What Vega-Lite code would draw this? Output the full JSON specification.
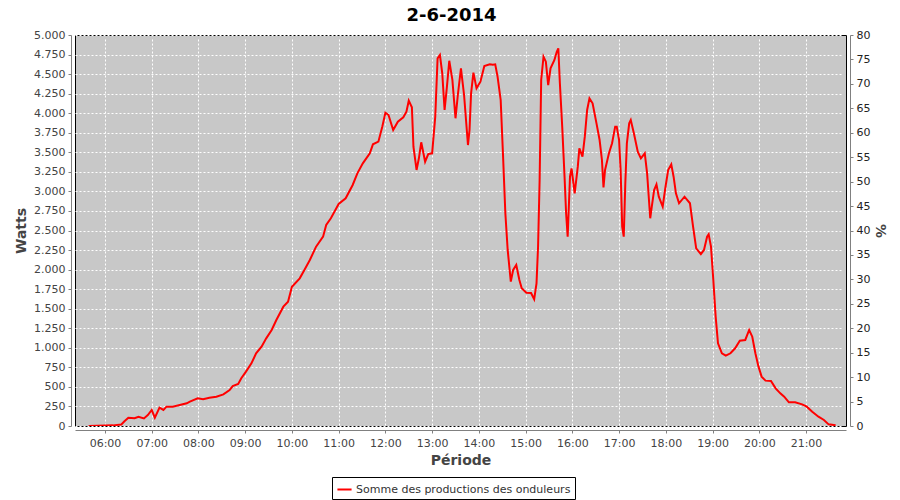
{
  "$schema": "https://vega.github.io/schema/vega-lite/v6.json",
  "width": 771,
  "height": 391,
  "autosize": {"type": "none"},
  "padding": {"left": 75, "top": 35, "right": 54, "bottom": 74},
  "background": "white",
  "title": {"text": "2-6-2014", "fontSize": 18, "font": "DejaVu Sans", "fontWeight": "bold", "color": "#000000", "anchor": "middle", "offset": 4, "dx": -9},
  "config": {
    "locale": {"number": {"decimal": ",", "thousands": ".", "grouping": [3], "currency": ["", " €"]}},
    "view": {"fill": "#c8c8c8", "stroke": "#000000", "strokeWidth": 1},
    "axis": {"labelFont": "DejaVu Sans", "labelFontSize": 11, "labelColor": "#444444", "titleFont": "DejaVu Sans", "titleFontSize": 14, "titleFontWeight": "bold", "titleColor": "#444444", "domainColor": "#808080", "tickColor": "#808080", "tickSize": 3, "offset": 4, "gridColor": "#ffffff", "gridDash": [2, 2], "gridWidth": 1, "gridOpacity": 1}
  },
  "layer": [
    {
      "data": {"values": [
        {"t": "2014-06-02T05:39:00", "w": 0},
        {"t": "2014-06-02T05:50:00", "w": 3},
        {"t": "2014-06-02T06:00:00", "w": 5},
        {"t": "2014-06-02T06:10:00", "w": 8},
        {"t": "2014-06-02T06:21:00", "w": 20},
        {"t": "2014-06-02T06:25:00", "w": 60},
        {"t": "2014-06-02T06:30:00", "w": 106},
        {"t": "2014-06-02T06:38:00", "w": 100},
        {"t": "2014-06-02T06:43:00", "w": 119},
        {"t": "2014-06-02T06:50:00", "w": 96},
        {"t": "2014-06-02T06:55:00", "w": 140},
        {"t": "2014-06-02T07:00:00", "w": 205},
        {"t": "2014-06-02T07:04:00", "w": 106},
        {"t": "2014-06-02T07:10:00", "w": 234},
        {"t": "2014-06-02T07:15:00", "w": 205},
        {"t": "2014-06-02T07:19:00", "w": 247},
        {"t": "2014-06-02T07:27:00", "w": 247},
        {"t": "2014-06-02T07:36:00", "w": 269},
        {"t": "2014-06-02T07:45:00", "w": 290},
        {"t": "2014-06-02T07:49:00", "w": 311},
        {"t": "2014-06-02T07:59:00", "w": 354},
        {"t": "2014-06-02T08:06:00", "w": 341},
        {"t": "2014-06-02T08:14:00", "w": 362},
        {"t": "2014-06-02T08:23:00", "w": 375},
        {"t": "2014-06-02T08:32:00", "w": 405},
        {"t": "2014-06-02T08:40:00", "w": 460},
        {"t": "2014-06-02T08:44:00", "w": 511},
        {"t": "2014-06-02T08:51:00", "w": 537},
        {"t": "2014-06-02T08:55:00", "w": 610},
        {"t": "2014-06-02T09:01:00", "w": 695},
        {"t": "2014-06-02T09:08:00", "w": 801},
        {"t": "2014-06-02T09:14:00", "w": 929},
        {"t": "2014-06-02T09:21:00", "w": 1014},
        {"t": "2014-06-02T09:27:00", "w": 1121},
        {"t": "2014-06-02T09:34:00", "w": 1228},
        {"t": "2014-06-02T09:40:00", "w": 1355},
        {"t": "2014-06-02T09:49:00", "w": 1526},
        {"t": "2014-06-02T09:55:00", "w": 1590},
        {"t": "2014-06-02T10:00:00", "w": 1781},
        {"t": "2014-06-02T10:10:00", "w": 1888},
        {"t": "2014-06-02T10:16:00", "w": 1995},
        {"t": "2014-06-02T10:23:00", "w": 2123},
        {"t": "2014-06-02T10:31:00", "w": 2293},
        {"t": "2014-06-02T10:40:00", "w": 2421},
        {"t": "2014-06-02T10:44:00", "w": 2570},
        {"t": "2014-06-02T10:50:00", "w": 2656},
        {"t": "2014-06-02T10:57:00", "w": 2784},
        {"t": "2014-06-02T11:00:00", "w": 2839},
        {"t": "2014-06-02T11:09:00", "w": 2912},
        {"t": "2014-06-02T11:18:00", "w": 3082},
        {"t": "2014-06-02T11:24:00", "w": 3231},
        {"t": "2014-06-02T11:31:00", "w": 3359},
        {"t": "2014-06-02T11:40:00", "w": 3487},
        {"t": "2014-06-02T11:44:00", "w": 3602},
        {"t": "2014-06-02T11:51:00", "w": 3636},
        {"t": "2014-06-02T11:56:00", "w": 3828},
        {"t": "2014-06-02T12:00:00", "w": 4006},
        {"t": "2014-06-02T12:04:00", "w": 3977},
        {"t": "2014-06-02T12:10:00", "w": 3785},
        {"t": "2014-06-02T12:16:00", "w": 3892},
        {"t": "2014-06-02T12:23:00", "w": 3947},
        {"t": "2014-06-02T12:27:00", "w": 4019},
        {"t": "2014-06-02T12:30:00", "w": 4160},
        {"t": "2014-06-02T12:34:00", "w": 4075},
        {"t": "2014-06-02T12:36:00", "w": 3572},
        {"t": "2014-06-02T12:40:00", "w": 3274},
        {"t": "2014-06-02T12:43:00", "w": 3423},
        {"t": "2014-06-02T12:46:00", "w": 3628},
        {"t": "2014-06-02T12:51:00", "w": 3380},
        {"t": "2014-06-02T12:55:00", "w": 3478},
        {"t": "2014-06-02T13:00:00", "w": 3487},
        {"t": "2014-06-02T13:04:00", "w": 3955},
        {"t": "2014-06-02T13:07:00", "w": 4702},
        {"t": "2014-06-02T13:10:00", "w": 4744},
        {"t": "2014-06-02T13:13:00", "w": 4510},
        {"t": "2014-06-02T13:16:00", "w": 4041},
        {"t": "2014-06-02T13:19:00", "w": 4339},
        {"t": "2014-06-02T13:22:00", "w": 4671},
        {"t": "2014-06-02T13:26:00", "w": 4425},
        {"t": "2014-06-02T13:30:00", "w": 3935},
        {"t": "2014-06-02T13:33:00", "w": 4233},
        {"t": "2014-06-02T13:37:00", "w": 4574},
        {"t": "2014-06-02T13:41:00", "w": 4233},
        {"t": "2014-06-02T13:46:00", "w": 3593},
        {"t": "2014-06-02T13:48:00", "w": 3785},
        {"t": "2014-06-02T13:50:00", "w": 4254},
        {"t": "2014-06-02T13:53:00", "w": 4518},
        {"t": "2014-06-02T13:57:00", "w": 4318},
        {"t": "2014-06-02T14:02:00", "w": 4403},
        {"t": "2014-06-02T14:07:00", "w": 4604},
        {"t": "2014-06-02T14:14:00", "w": 4625},
        {"t": "2014-06-02T14:18:00", "w": 4620},
        {"t": "2014-06-02T14:21:00", "w": 4625},
        {"t": "2014-06-02T14:24:00", "w": 4467},
        {"t": "2014-06-02T14:28:00", "w": 4169},
        {"t": "2014-06-02T14:31:00", "w": 3465},
        {"t": "2014-06-02T14:34:00", "w": 2720},
        {"t": "2014-06-02T14:37:00", "w": 2251},
        {"t": "2014-06-02T14:41:00", "w": 1846},
        {"t": "2014-06-02T14:44:00", "w": 1995},
        {"t": "2014-06-02T14:48:00", "w": 2059},
        {"t": "2014-06-02T14:52:00", "w": 1867},
        {"t": "2014-06-02T14:55:00", "w": 1761},
        {"t": "2014-06-02T15:01:00", "w": 1705},
        {"t": "2014-06-02T15:07:00", "w": 1700},
        {"t": "2014-06-02T15:11:00", "w": 1620},
        {"t": "2014-06-02T15:14:00", "w": 1825},
        {"t": "2014-06-02T15:16:00", "w": 2293},
        {"t": "2014-06-02T15:18:00", "w": 3146},
        {"t": "2014-06-02T15:20:00", "w": 4425},
        {"t": "2014-06-02T15:23:00", "w": 4723},
        {"t": "2014-06-02T15:26:00", "w": 4659},
        {"t": "2014-06-02T15:29:00", "w": 4360},
        {"t": "2014-06-02T15:32:00", "w": 4574},
        {"t": "2014-06-02T15:37:00", "w": 4680},
        {"t": "2014-06-02T15:40:00", "w": 4786},
        {"t": "2014-06-02T15:42:00", "w": 4830},
        {"t": "2014-06-02T15:44:00", "w": 4382},
        {"t": "2014-06-02T15:47:00", "w": 3828},
        {"t": "2014-06-02T15:50:00", "w": 3188},
        {"t": "2014-06-02T15:52:00", "w": 2720},
        {"t": "2014-06-02T15:54:00", "w": 2421},
        {"t": "2014-06-02T15:57:00", "w": 3188},
        {"t": "2014-06-02T15:59:00", "w": 3295},
        {"t": "2014-06-02T16:03:00", "w": 2976},
        {"t": "2014-06-02T16:07:00", "w": 3316},
        {"t": "2014-06-02T16:09:00", "w": 3551},
        {"t": "2014-06-02T16:13:00", "w": 3444},
        {"t": "2014-06-02T16:16:00", "w": 3700},
        {"t": "2014-06-02T16:19:00", "w": 4041},
        {"t": "2014-06-02T16:22:00", "w": 4190},
        {"t": "2014-06-02T16:26:00", "w": 4127},
        {"t": "2014-06-02T16:31:00", "w": 3870},
        {"t": "2014-06-02T16:35:00", "w": 3657},
        {"t": "2014-06-02T16:38:00", "w": 3402},
        {"t": "2014-06-02T16:40:00", "w": 3050},
        {"t": "2014-06-02T16:42:00", "w": 3274},
        {"t": "2014-06-02T16:47:00", "w": 3487},
        {"t": "2014-06-02T16:51:00", "w": 3615},
        {"t": "2014-06-02T16:55:00", "w": 3828},
        {"t": "2014-06-02T16:57:00", "w": 3828},
        {"t": "2014-06-02T17:00:00", "w": 3657},
        {"t": "2014-06-02T17:02:00", "w": 3274},
        {"t": "2014-06-02T17:04:00", "w": 2549},
        {"t": "2014-06-02T17:06:00", "w": 2421},
        {"t": "2014-06-02T17:08:00", "w": 3104},
        {"t": "2014-06-02T17:10:00", "w": 3615},
        {"t": "2014-06-02T17:13:00", "w": 3870},
        {"t": "2014-06-02T17:15:00", "w": 3913},
        {"t": "2014-06-02T17:19:00", "w": 3743},
        {"t": "2014-06-02T17:24:00", "w": 3508},
        {"t": "2014-06-02T17:28:00", "w": 3423},
        {"t": "2014-06-02T17:33:00", "w": 3487},
        {"t": "2014-06-02T17:36:00", "w": 3231},
        {"t": "2014-06-02T17:40:00", "w": 2656},
        {"t": "2014-06-02T17:42:00", "w": 2805},
        {"t": "2014-06-02T17:45:00", "w": 3018},
        {"t": "2014-06-02T17:48:00", "w": 3090},
        {"t": "2014-06-02T17:51:00", "w": 2932},
        {"t": "2014-06-02T17:56:00", "w": 2805},
        {"t": "2014-06-02T17:59:00", "w": 3018},
        {"t": "2014-06-02T18:03:00", "w": 3274},
        {"t": "2014-06-02T18:07:00", "w": 3346},
        {"t": "2014-06-02T18:10:00", "w": 3188},
        {"t": "2014-06-02T18:13:00", "w": 2976},
        {"t": "2014-06-02T18:17:00", "w": 2848},
        {"t": "2014-06-02T18:24:00", "w": 2932},
        {"t": "2014-06-02T18:31:00", "w": 2848},
        {"t": "2014-06-02T18:35:00", "w": 2549},
        {"t": "2014-06-02T18:39:00", "w": 2272},
        {"t": "2014-06-02T18:45:00", "w": 2199},
        {"t": "2014-06-02T18:49:00", "w": 2251},
        {"t": "2014-06-02T18:53:00", "w": 2421},
        {"t": "2014-06-02T18:55:00", "w": 2451},
        {"t": "2014-06-02T18:58:00", "w": 2293},
        {"t": "2014-06-02T19:01:00", "w": 1867},
        {"t": "2014-06-02T19:04:00", "w": 1398},
        {"t": "2014-06-02T19:07:00", "w": 1058},
        {"t": "2014-06-02T19:12:00", "w": 930},
        {"t": "2014-06-02T19:17:00", "w": 900},
        {"t": "2014-06-02T19:23:00", "w": 930},
        {"t": "2014-06-02T19:29:00", "w": 994},
        {"t": "2014-06-02T19:35:00", "w": 1091},
        {"t": "2014-06-02T19:42:00", "w": 1100},
        {"t": "2014-06-02T19:47:00", "w": 1228},
        {"t": "2014-06-02T19:51:00", "w": 1142},
        {"t": "2014-06-02T19:55:00", "w": 930},
        {"t": "2014-06-02T19:59:00", "w": 759},
        {"t": "2014-06-02T20:03:00", "w": 631},
        {"t": "2014-06-02T20:08:00", "w": 580},
        {"t": "2014-06-02T20:15:00", "w": 575},
        {"t": "2014-06-02T20:21:00", "w": 482},
        {"t": "2014-06-02T20:27:00", "w": 418},
        {"t": "2014-06-02T20:32:00", "w": 375},
        {"t": "2014-06-02T20:38:00", "w": 303},
        {"t": "2014-06-02T20:46:00", "w": 303},
        {"t": "2014-06-02T20:55:00", "w": 277},
        {"t": "2014-06-02T21:01:00", "w": 247},
        {"t": "2014-06-02T21:08:00", "w": 183},
        {"t": "2014-06-02T21:16:00", "w": 119},
        {"t": "2014-06-02T21:23:00", "w": 77},
        {"t": "2014-06-02T21:29:00", "w": 21},
        {"t": "2014-06-02T21:38:00", "w": 10}
      ]},
      "mark": {"type": "line", "strokeWidth": 2, "interpolate": "linear", "clip": true},
      "encoding": {
        "x": {
          "field": "t", "type": "temporal",
          "scale": {"domain": [{"year": 2014, "month": 6, "date": 2, "hours": 5, "minutes": 21, "seconds": 30}, {"year": 2014, "month": 6, "date": 2, "hours": 21, "minutes": 51, "seconds": 20}]},
          "axis": {"title": "Période", "format": "%H:%M", "tickCount": 16, "labelPadding": 4, "titlePadding": 5, "labelFlush": false, "labelOverlap": false}
        },
        "y": {
          "field": "w", "type": "quantitative",
          "scale": {"domain": [0, 5000], "nice": false},
          "axis": {"title": "Watts", "values": [0, 250, 500, 750, 1000, 1250, 1500, 1750, 2000, 2250, 2500, 2750, 3000, 3250, 3500, 3750, 4000, 4250, 4500, 4750, 5000], "format": ",.0f", "titlePadding": 5, "labelPadding": 3}
        },
        "color": {
          "datum": "Somme des productions des onduleurs",
          "scale": {"range": ["#ff0000"]},
          "legend": {"title": null, "orient": "none", "legendX": 257, "legendY": 442, "direction": "horizontal", "symbolType": "stroke", "symbolStrokeWidth": 2, "symbolSize": 200, "labelFont": "DejaVu Sans", "labelFontSize": 11, "labelColor": "#333333", "labelLimit": 400, "strokeColor": "#000000", "fillColor": "#ffffff", "padding": 4, "labelOffset": 3}
        }
      }
    },
    {
      "data": {"values": [{"pct": 0}]},
      "mark": {"type": "rule", "strokeOpacity": 0},
      "encoding": {
        "y": {
          "field": "pct", "type": "quantitative",
          "scale": {"domain": [0, 80], "nice": false},
          "axis": {"title": "%", "orient": "right", "grid": false, "values": [0, 5, 10, 15, 20, 25, 30, 35, 40, 45, 50, 55, 60, 65, 70, 75, 80], "labelColor": "#222222", "titlePadding": 3, "labelPadding": 3}
        }
      }
    }
  ],
  "resolve": {"scale": {"y": "independent"}}
}
